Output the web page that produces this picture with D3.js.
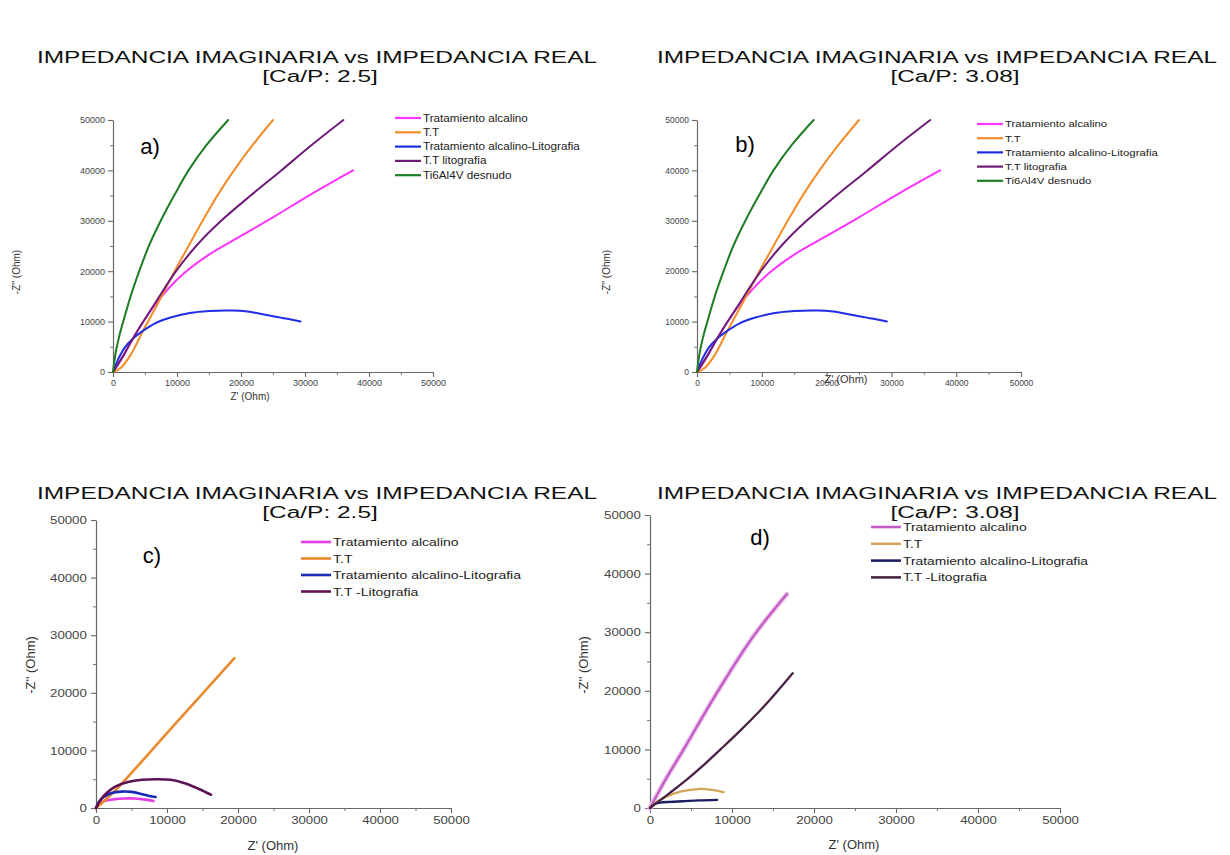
<!DOCTYPE html>
<html><head><meta charset="utf-8">
<script src="https://cdn.jsdelivr.net/npm/d3@7"></script>
<style>
html,body{margin:0;padding:0;background:#fff;}
svg{display:block;font-family:"Liberation Sans",Arial,sans-serif;}
</style></head>
<body>
<svg id="c" width="1230" height="855"></svg>
<script>
// ---------- DATA ----------
const titleLine1 = "IMPEDANCIA IMAGINARIA vs IMPEDANCIA REAL";
const subtitles = ["[Ca/P: 2.5]", "[Ca/P: 3.08]", "[Ca/P: 2.5]", "[Ca/P: 3.08]"];
const panelLetters = ["a)", "b)", "c)", "d)"];
const tickValues = [0, 10000, 20000, 30000, 40000, 50000];
const minorTicks = [5000, 15000, 25000, 35000, 45000];

const namesTop = ["Tratamiento alcalino", "T.T", "Tratamiento alcalino-Litografia", "T.T litografia", "Ti6Al4V desnudo"];
const namesBottom = ["Tratamiento alcalino", "T.T", "Tratamiento alcalino-Litografia", "T.T -Litografia"];

// Panels a) and b) (same measurements)  [Z', -Z'']
const topAlcalino = [[0,0],[1500,3000],[3600,7700],[6300,12900],[8700,16600],[11000,19500],[15000,23300],[20000,27000],[25000,30700],[31000,35300],[37500,40000]];
const topTT = [[0,0],[1200,800],[2800,3500],[4500,7700],[7000,13600],[9550,19800],[11800,25000],[14000,30000],[16300,35000],[18900,40000],[21800,45000],[25000,50000]];
const topAlcLito = [[0,0],[800,2500],[1800,4800],[3000,6500],[4500,8000],[6500,9600],[9000,10800],[12000,11700],[15000,12100],[18500,12200],[21000,12000],[24000,11300],[27000,10600],[29300,10000]];
const topTTLito = [[0,0],[1500,3000],[3600,7700],[6600,13700],[9850,20000],[13200,25300],[16900,30000],[21500,35000],[26300,40000],[31000,45000],[36000,50000]];
const topDesnudo = [[0,0],[250,2500],[600,5000],[1050,7500],[1600,10000],[2750,15000],[4100,20000],[5600,25000],[7460,30000],[9550,35000],[11800,40000],[14600,45000],[18000,50000]];

// Panel c)
const cAlcalino = [[0,0],[500,700],[1200,1200],[2500,1500],[4000,1650],[5500,1650],[7000,1450],[8100,1200]];
const cTT = [[0,0],[1500,1600],[3000,3400],[11000,14400],[19500,26000]];
const cAlcLito = [[0,0],[500,1200],[1200,2000],[2200,2600],[3500,2850],[5000,2800],[6500,2400],[7500,2100],[8400,1900]];
const cTTLito = [[0,0],[700,1500],[1500,2600],[2700,3700],[4500,4500],[6500,4900],[8500,5000],[10500,4900],[12500,4300],[14500,3300],[16200,2300]];

// Panel d)
const dAlcalino = [[0,0],[1000,2600],[2000,5100],[4100,10000],[8300,20000],[12600,29300],[16700,36500]];
const dTT = [[0,0],[700,900],[1500,1600],[3000,2500],[4500,3000],[6200,3250],[7500,3100],[9000,2700]];
const dAlcLito = [[0,0],[500,600],[1200,900],[2500,1050],[4000,1150],[6000,1300],[8200,1400]];
const dTTLito = [[0,0],[1500,1600],[3000,3200],[4700,5100],[6600,7400],[8600,10000],[11000,13200],[14000,17500],[17400,23000]];

// ---------- LAYOUT / STYLE ----------
const colorsAB = ["#ff33ff", "#f28c28", "#1f2ee6", "#6e1c78", "#1e7d24"];
const colorsC = ["#e63ce6", "#ea8a2c", "#1a2ab5", "#5c1254"];
const colorsD = ["#c45ac4", "#d4a45a", "#1c1c62", "#4a2446"];

const titleStretch = 1.44;
const panels = [
  {x0:113, x1:433, y0:372, y1:120, series:[topAlcalino,topTT,topAlcLito,topTTLito,topDesnudo], names:namesTop, colors:colorsAB,
   tickFont:9, tickStretch:1.0, lw:2, title:[317,320,63], letter:[150,154,22], legend:[395,118,14.3,10,1.17],
   xlab:[250,400,10], ylab:[16,272,10]},
  {x0:697, x1:1021, y0:372, y1:120, series:[topAlcalino,topTT,topAlcLito,topTTLito,topDesnudo], names:namesTop, colors:colorsAB,
   tickFont:8.5, tickStretch:1.0, lw:2, title:[937,955,63], letter:[745,152,22], legend:[977,124,14.2,9.5,1.2],
   xlab:[846,383,11], ylab:[606,272,10]},
  {x0:96, x1:451, y0:808, y1:520, series:[cAlcalino,cTT,cAlcLito,cTTLito], names:namesBottom, colors:colorsC,
   tickFont:11.5, tickStretch:1.15, lw:2.6, title:[317,320,499], letter:[152,563,22], legend:[301,542,16.5,11.5,1.22],
   xlab:[273,850,13], ylab:[30,665,13]},
  {x0:650, x1:1060, y0:808, y1:515, series:[dAlcalino,dTT,dAlcLito,dTTLito], names:namesBottom, colors:colorsD,
   tickFont:11.5, tickStretch:1.15, lw:2.3, title:[937,955,499], letter:[760,545,22], legend:[871,527,16.8,11.5,1.2],
   xlab:[854,849,13], ylab:[583,665,13]}
];

const svg = d3.select("#c");
const fmt = d3.format("d");

function stretchedText(g, x, y, sx, size, txt, anchor) {
  return g.append("text").attr("transform", `translate(${x},${y}) scale(${sx},1)`)
    .attr("text-anchor", anchor).attr("font-size", size).attr("fill", "#111").text(txt);
}

panels.forEach((p, i) => {
  const g = svg.append("g");
  // titles
  stretchedText(g, p.title[0], p.title[2], titleStretch, 17, titleLine1, "middle");
  stretchedText(g, p.title[1], p.title[2] + 19, titleStretch, 17, subtitles[i], "middle");

  const x = d3.scaleLinear().domain([0, 50000]).range([p.x0, p.x1]);
  const y = d3.scaleLinear().domain([0, 50000]).range([p.y0, p.y1]);

  // minor ticks
  g.append("g").attr("transform", `translate(0,${p.y0})`)
    .call(d3.axisBottom(x).tickValues(minorTicks).tickSize(3).tickFormat(""))
    .call(a => a.select(".domain").remove())
    .selectAll("line").attr("stroke","#777");
  g.append("g").attr("transform", `translate(${p.x0},0)`)
    .call(d3.axisLeft(y).tickValues(minorTicks).tickSize(3).tickFormat(""))
    .call(a => a.select(".domain").remove())
    .selectAll("line").attr("stroke","#777");

  // major axes
  const xa = g.append("g").attr("transform", `translate(0,${p.y0})`)
    .call(d3.axisBottom(x).tickValues(tickValues).tickSize(5).tickSizeOuter(0).tickFormat(fmt));
  const ya = g.append("g").attr("transform", `translate(${p.x0},0)`)
    .call(d3.axisLeft(y).tickValues(tickValues).tickSize(5).tickSizeOuter(0).tickFormat(fmt));
  [xa, ya].forEach(a => {
    a.select(".domain").attr("stroke","#666").attr("stroke-width",1.2);
    a.selectAll(".tick line").attr("stroke","#666").attr("stroke-width",1.1);
    a.selectAll(".tick text").attr("fill","#444").attr("font-size", p.tickFont)
      .attr("font-family","'Liberation Sans',Arial,sans-serif")
      .attr("transform", `scale(${p.tickStretch},1)`);
  });

  // axis titles
  g.append("text").attr("x", p.xlab[0]).attr("y", p.xlab[1]).attr("text-anchor","middle")
    .attr("font-size", p.xlab[2]).attr("fill","#333").text("Z' (Ohm)");
  g.append("text").attr("transform", `translate(${p.ylab[0]},${p.ylab[1]}) rotate(-90)`)
    .attr("text-anchor","middle").attr("dy","0.35em")
    .attr("font-size", p.ylab[2]).attr("fill","#333").text("-Z'' (Ohm)");

  // lines
  const line = d3.line().x(d => x(d[0])).y(d => y(d[1])).curve(d3.curveCatmullRom.alpha(0.5));
  p.series.forEach((s, k) => {
    if (i === 3 && k === 0) {
      g.append("path").datum(s).attr("d", line).attr("fill","none")
        .attr("stroke","#ecc4ec").attr("stroke-width", 5).attr("stroke-linecap","round");
    }
    g.append("path").datum(s).attr("d", line).attr("fill","none")
      .attr("stroke", p.colors[k]).attr("stroke-width", p.lw)
      .attr("stroke-linejoin","round").attr("stroke-linecap","round");
  });

  // legend
  const [lx, ly, dy, fs, ls] = p.legend;
  const segLen = i >= 2 ? 30 : 26;
  p.names.forEach((n, k) => {
    const yy = ly + k * dy;
    g.append("line").attr("x1", lx).attr("x2", lx + segLen)
      .attr("y1", yy).attr("y2", yy).attr("stroke", p.colors[k]).attr("stroke-width", i >= 2 ? 2.6 : 2.2);
    stretchedText(g, lx + segLen + 2, yy + fs * 0.35, ls, fs, n, "start").attr("fill","#222");
  });

  // panel letter
  g.append("text").attr("x", p.letter[0]).attr("y", p.letter[1]).attr("text-anchor","middle")
    .attr("font-size", p.letter[2]).attr("fill","#000").text(panelLetters[i]);
});
</script>
</body></html>
